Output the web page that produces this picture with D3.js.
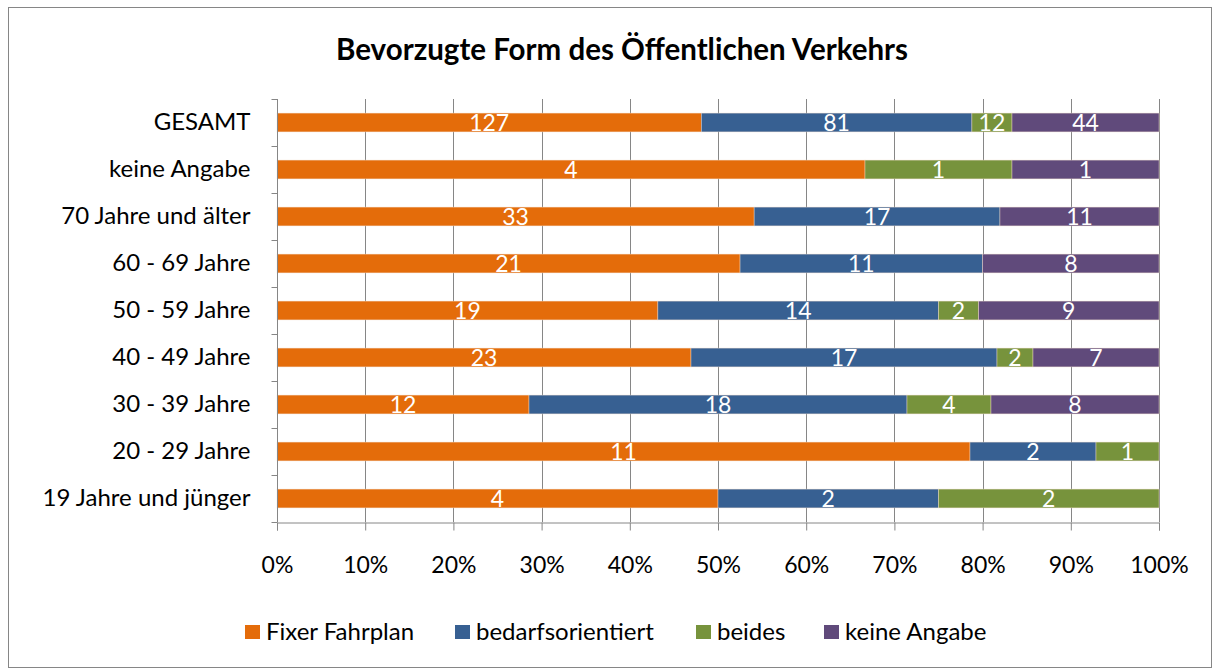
<!DOCTYPE html>
<html>
<head>
<meta charset="utf-8">
<script src="https://d3js.org/d3.v7.min.js"></script>
<style>
  body { margin: 0; background: #fff; }
  svg { display: block; font-family: Lato, "Open Sans", sans-serif; }
</style>
</head>
<body>
<svg id="chart" width="1214" height="669"></svg>
<script>
// categories, top to bottom
const categories = ["GESAMT", "keine Angabe", "70 Jahre und älter", "60 - 69 Jahre",
  "50 - 59 Jahre", "40 - 49 Jahre", "30 - 39 Jahre", "20 - 29 Jahre", "19 Jahre und jünger"];
const seriesNames = ["Fixer Fahrplan", "bedarfsorientiert", "beides", "keine Angabe"];
const seriesColors = ["#E46C0A", "#376092", "#77933C", "#604A7B"];
// counts per category, in series order
const fixerFahrplan =     [127, 4, 33, 21, 19, 23, 12, 11, 4];
const bedarfsorientiert = [81, 0, 17, 11, 14, 17, 18, 2, 2];
const beides =            [12, 1, 0, 0, 2, 2, 4, 1, 2];
const keineAngabe =       [44, 1, 11, 8, 9, 7, 8, 0, 0];
const tickValues = [0, 0.1, 0.2, 0.3, 0.4, 0.5, 0.6, 0.7, 0.8, 0.9, 1];

const svg = d3.select("#chart");
const W = 1214, H = 669;
const margin = { left: 277, right: 55, top: 99, bottom: 147 };

// outer frame
svg.append("rect")
  .attr("x", 8.5).attr("y", 7.5)
  .attr("width", W - 11).attr("height", H - 9)
  .attr("fill", "#fff").attr("stroke", "#868686").attr("stroke-width", 1);

svg.append("text")
  .attr("x", 622).attr("y", 60)
  .attr("text-anchor", "middle")
  .attr("font-size", "29.5px").attr("font-weight", "bold")
  .text("Bevorzugte Form des Öffentlichen Verkehrs");

const x = d3.scaleLinear().domain([0, 1]).range([margin.left, W - margin.right]);
const y = d3.scaleBand().domain(categories)
  .range([margin.top, H - margin.bottom])
  .paddingInner(0.6).paddingOuter(0.3);

// stack each row to 100%
const rows = categories.map((c, i) => {
  const vals = [fixerFahrplan[i], bedarfsorientiert[i], beides[i], keineAngabe[i]];
  const total = d3.sum(vals);
  let acc = 0;
  return vals.map((v, s) => {
    const seg = { cat: c, s, v, x0: acc / total, x1: (acc + v) / total };
    acc += v;
    return seg;
  });
});

// gridlines
svg.append("g").selectAll("line")
  .data(tickValues.slice(1))
  .join("line")
  .attr("x1", d => Math.round(x(d)) + 0.5).attr("x2", d => Math.round(x(d)) + 0.5)
  .attr("y1", margin.top).attr("y2", H - margin.bottom)
  .attr("stroke", "#868686").attr("stroke-width", 1);

// bars
const segAll = rows.flat().filter(d => d.v > 0);
svg.append("g").selectAll("rect")
  .data(segAll)
  .join("rect")
  .attr("x", d => x(d.x0)).attr("width", d => x(d.x1) - x(d.x0))
  .attr("y", d => y(d.cat)).attr("height", y.bandwidth())
  .attr("fill", d => seriesColors[d.s])
  .attr("stroke", "#f3ddcc").attr("stroke-width", 0.6).attr("stroke-opacity", 0.7);

// data labels
svg.append("g").selectAll("text")
  .data(segAll)
  .join("text")
  .attr("x", d => (x(d.x0) + x(d.x1)) / 2)
  .attr("y", d => y(d.cat) + y.bandwidth() / 2 + 8.5)
  .attr("text-anchor", "middle")
  .attr("font-size", "23px").attr("fill", "#fff")
  .text(d => d.v);

// y axis
const yAxis = svg.append("g")
  .attr("transform", `translate(${margin.left + 0.5},0)`);
yAxis.append("line")
  .attr("y1", margin.top).attr("y2", H - margin.bottom)
  .attr("stroke", "#868686");
yAxis.selectAll(".tk").data(d3.range(categories.length + 1))
  .join("line")
  .attr("x1", -6).attr("x2", 0)
  .attr("y1", i => Math.round(margin.top + i * y.step()) + 0.5)
  .attr("y2", i => Math.round(margin.top + i * y.step()) + 0.5)
  .attr("stroke", "#868686");
yAxis.selectAll("text").data(categories)
  .join("text")
  .attr("x", -27)
  .attr("y", d => y(d) + y.bandwidth() / 2 + 7)
  .attr("text-anchor", "end")
  .attr("font-size", "24px").attr("fill", "#000")
  .text(d => d);

// x axis
const xAxis = svg.append("g")
  .attr("transform", `translate(0,${H - margin.bottom + 0.5})`)
  .call(d3.axisBottom(x).tickValues(tickValues).tickFormat(d3.format(".0%")).tickSize(8));
xAxis.select(".domain").attr("stroke", "#868686");
xAxis.selectAll(".tick line").attr("stroke", "#868686");
xAxis.selectAll(".tick text")
  .attr("y", 50).attr("dy", null)
  .attr("font-size", "23px").attr("fill", "#000")
  .attr("font-family", "Lato, 'Open Sans', sans-serif");

// legend
const legendX = [245, 455, 696, 824];
const legend = svg.append("g").selectAll("g")
  .data(seriesNames)
  .join("g")
  .attr("transform", (d, i) => `translate(${legendX[i]},625)`);
legend.append("rect")
  .attr("width", 15).attr("height", 14)
  .attr("fill", (d, i) => seriesColors[i]);
legend.append("text")
  .attr("x", 21).attr("y", 15)
  .attr("font-size", "24px").attr("fill", "#000")
  .text(d => d);
</script>
</body>
</html>
